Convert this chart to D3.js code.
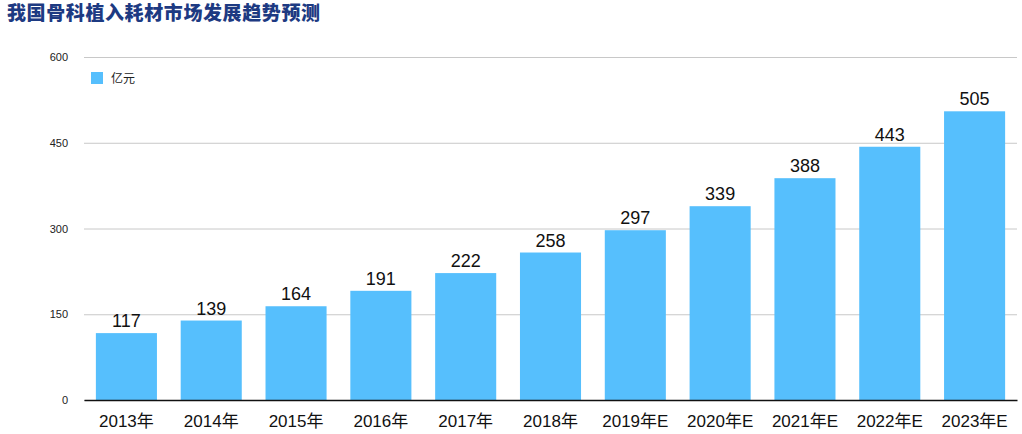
<!DOCTYPE html>
<html>
<head>
<meta charset="utf-8">
<script src="https://cdn.jsdelivr.net/npm/d3@7"></script>
<style>
  body { margin: 0; background: #fff; }
  svg { font-family: "Helvetica", "Liberation Sans", "Noto Sans CJK SC", sans-serif; }
</style>
</head>
<body>
<svg id="chart" width="1022" height="434"></svg>
<script>
const years = ["2013年", "2014年", "2015年", "2016年", "2017年", "2018年",
  "2019年E", "2020年E", "2021年E", "2022年E", "2023年E"];
const values = [117, 139, 164, 191, 222, 258, 297, 339, 388, 443, 505];
const yTicks = [0, 150, 300, 450, 600];
const seriesName = "亿元";
const title = "我国骨科植入耗材市场发展趋势预测";

const svg = d3.select("#chart");
const margin = { left: 84, right: 1017, top: 57, bottom: 400 };
const barColor = "#56bffd";

const x = d3.scaleBand().domain(years).range([margin.left, margin.right])
  .paddingInner(0.28).paddingOuter(0.14);
const y = d3.scaleLinear().domain([0, 600]).range([margin.bottom, margin.top]);

// title
svg.append("text")
  .attr("x", 7).attr("y", 20)
  .attr("font-family", "Noto Sans CJK SC")
  .attr("font-weight", "900")
  .attr("font-size", 19)
  .attr("letter-spacing", 0.6)
  .attr("fill", "#1d3a82")
  .text(title);

// grid lines + y labels
const yAxis = d3.axisLeft(y).tickValues(yTicks)
  .tickSize(-(margin.right - margin.left)).tickPadding(16);
const gy = svg.append("g").attr("transform", `translate(${margin.left},0)`).call(yAxis);
gy.select(".domain").remove();
gy.selectAll(".tick line").attr("stroke", "#c8c8c8").attr("stroke-width", 1);
gy.selectAll(".tick text").attr("font-size", 11).attr("fill", "#222");

// bars
svg.selectAll(".bar")
  .data(values)
  .join("rect")
  .attr("class", "bar")
  .attr("x", (d, i) => x(years[i]))
  .attr("width", x.bandwidth())
  .attr("y", (d) => y(d))
  .attr("height", (d) => margin.bottom - y(d))
  .attr("fill", barColor);

// value labels
svg.selectAll(".val")
  .data(values)
  .join("text")
  .attr("class", "val")
  .attr("x", (d, i) => x(years[i]) + x.bandwidth() / 2)
  .attr("y", (d) => y(d) - 6)
  .attr("text-anchor", "middle")
  .attr("font-size", 18)
  .attr("fill", "#111")
  .text((d) => d);

// x axis
const xAxis = d3.axisBottom(x).tickSize(0).tickPadding(15);
const gx = svg.append("g").attr("transform", `translate(0,${margin.bottom})`).call(xAxis);
gx.select(".domain").attr("stroke", "#111").attr("stroke-width", 1.5);
gx.selectAll(".tick text").attr("font-size", 17).attr("fill", "#111")
  .attr("font-family", "Helvetica, 'Liberation Sans', 'Noto Sans CJK SC', sans-serif");

// legend
svg.append("rect").attr("x", 91).attr("y", 72).attr("width", 12).attr("height", 12).attr("fill", barColor);
svg.append("text").attr("x", 111).attr("y", 82.5).attr("font-size", 12).attr("fill", "#222").text(seriesName);
</script>
</body>
</html>
